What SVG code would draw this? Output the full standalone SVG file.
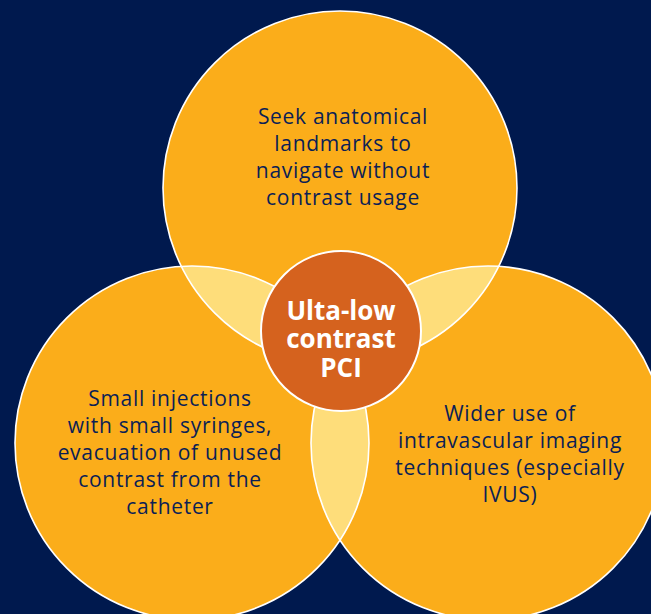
<svg xmlns="http://www.w3.org/2000/svg" width="651" height="614" viewBox="0 0 651 614">
<style>
.bg{fill:#00194e}
.c{fill:#fbad1a;stroke:none}
.o{fill:none;stroke:#ffffff;stroke-width:1.6}
.lens{fill:#fedd7a}
.t{font-family:"Open Sans","Noto Sans",sans-serif;font-size:21px;letter-spacing:0.7px;fill:#0b1f55;text-anchor:middle}
.ct{font-family:"Open Sans","Noto Sans",sans-serif;font-size:26px;font-weight:bold;fill:#ffffff;text-anchor:middle}
</style>
<defs>
<clipPath id="cTop"><circle cx="340" cy="188" r="177"/></clipPath>
<clipPath id="cLeft"><circle cx="192" cy="443" r="177"/></clipPath>
</defs>
<rect class="bg" x="0" y="0" width="651" height="614"/>
<g id="circle-top"><circle class="c" cx="340" cy="188" r="177"/></g>
<g id="circle-left"><circle class="c" cx="192" cy="443" r="177"/></g>
<g id="circle-right"><circle class="c" cx="488" cy="443" r="177"/></g>
<g id="overlaps">
<g clip-path="url(#cTop)"><circle class="lens" cx="192" cy="443" r="177"/></g>
<g clip-path="url(#cTop)"><circle class="lens" cx="488" cy="443" r="177"/></g>
<g clip-path="url(#cLeft)"><circle class="lens" cx="488" cy="443" r="177"/></g>
</g>
<g id="outlines">
<circle class="o" cx="340" cy="188" r="177"/>
<circle class="o" cx="192" cy="443" r="177"/>
<circle class="o" cx="488" cy="443" r="177"/>
</g>
<g id="text-top">
<text class="t" x="343" y="124">Seek anatomical</text>
<text class="t" x="343" y="151">landmarks to</text>
<text class="t" x="343" y="178">navigate without</text>
<text class="t" x="343" y="205">contrast usage</text>
</g>
<g id="text-left">
<text class="t" x="170" y="406">Small injections</text>
<text class="t" x="170" y="433">with small syringes,</text>
<text class="t" x="170" y="460">evacuation of unused</text>
<text class="t" x="170" y="487">contrast from the</text>
<text class="t" x="170" y="514">catheter</text>
</g>
<g id="text-right">
<text class="t" x="510" y="421">Wider use of</text>
<text class="t" x="510" y="448">intravascular imaging</text>
<text class="t" x="510" y="475">techniques (especially</text>
<text class="t" x="510" y="502">IVUS)</text>
</g>
<g id="center">
<circle cx="341" cy="331" r="80" fill="#d5621e" stroke="#ffffff" stroke-width="2"/>
<text class="ct" x="341" y="320">Ulta-low</text>
<text class="ct" x="341" y="348">contrast</text>
<text class="ct" x="341" y="377">PCI</text>
</g>
</svg>
